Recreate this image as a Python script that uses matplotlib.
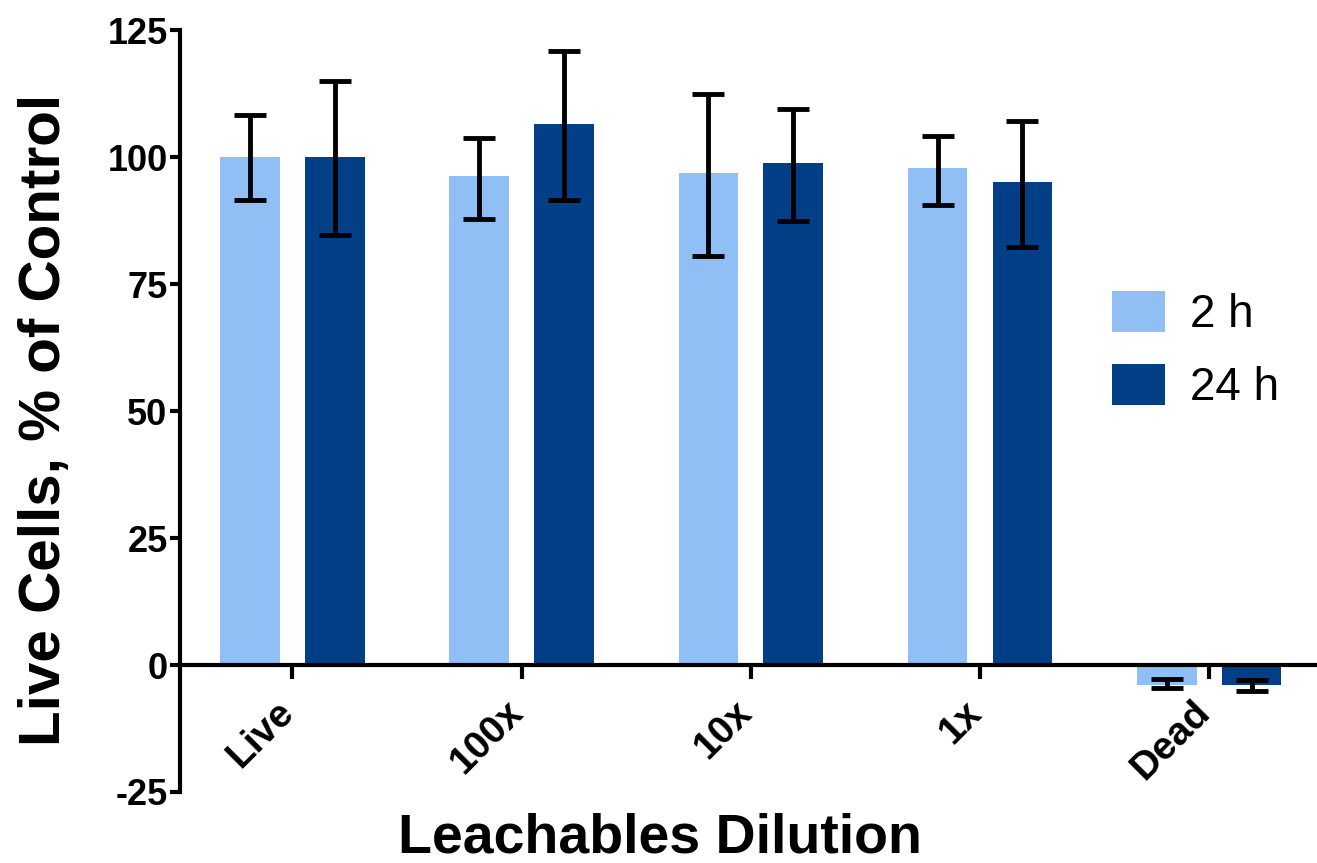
import matplotlib
matplotlib.use("Agg")
import matplotlib.pyplot as plt
import matplotlib.transforms as mtransforms
import numpy as np
from matplotlib.patches import Patch

categories = ["Live", "100x", "10x", "1x", "Dead"]
series_names = ["2 h", "24 h"]
values_2h = [100.0, 96.3, 96.9, 97.8, -4.0]
low_2h = [91.6, 87.8, 80.5, 90.6, -4.6]
high_2h = [108.3, 103.8, 112.5, 104.2, -2.8]
values_24h = [100.0, 106.6, 98.8, 95.1, -4.0]
low_24h = [84.7, 91.5, 87.5, 82.4, -5.1]
high_24h = [115.0, 121.0, 109.4, 107.1, -2.9]
yticks = [-25, 0, 25, 50, 75, 100, 125]

colors = ["#8fbff5", "#023f86"]

plt.rcParams['font.family'] = ['Liberation Sans', 'DejaVu Sans']

fig = plt.figure(figsize=(13.17, 8.63), dpi=100)
ax = fig.add_axes([0.1367, 0.0823, 0.8633, 0.8827])

for s in ['top', 'right']:
    ax.spines[s].set_visible(False)
ax.spines['bottom'].set_position(('data', 0))
ax.spines['bottom'].set_linewidth(3)
ax.spines['left'].set_linewidth(3)
ax.spines['bottom'].set_zorder(4)

x = np.arange(len(categories))
w = 0.26
off = 0.185
for vals, lo, hi, xo, c in [(values_2h, low_2h, high_2h, -off, colors[0]),
                             (values_24h, low_24h, high_24h, off, colors[1])]:
    vals = np.array(vals); lo = np.array(lo); hi = np.array(hi)
    ax.bar(x + xo, vals, width=w, color=c, zorder=2)
    yerr = np.vstack([vals - lo, hi - vals])
    yerr = np.clip(yerr, 0, None)
    ax.errorbar(x + xo, vals, yerr=yerr, fmt='none', ecolor='black',
                elinewidth=3.5, capsize=11.5, capthick=3.5, zorder=3)

ax.set_xlim(-0.49, 4.47)
ax.set_ylim(-25, 125)
ax.set_yticks(yticks)
ax.set_yticklabels([str(t) for t in yticks], fontsize=26, fontweight='bold')
ax.set_xticks(x)
ax.set_xticklabels(categories, rotation=45, ha='right', rotation_mode='anchor',
                   fontsize=28, fontweight='bold')

ax.tick_params(axis='x', length=10, width=3, direction='out', pad=11)
ax.tick_params(axis='y', length=7, width=3, direction='out', pad=2)

shift = mtransforms.ScaledTranslation(-17 / 100, 0, fig.dpi_scale_trans)
for lbl in ax.get_xticklabels():
    lbl.set_transform(lbl.get_transform() + shift)

ax.set_ylabel("Live Cells, % of Control", fontsize=42, fontweight='bold')
ax.yaxis.set_label_coords(-0.095, 0.488)
fig.text(0.501, 0.028, "Leachables Dilution", fontsize=40, fontweight='bold',
         ha='center', va='center')

handles = [Patch(facecolor=colors[0]), Patch(facecolor=colors[1])]
ax.legend(handles, series_names, loc='upper left', bbox_to_anchor=(0.783, 0.712),
          frameon=False, fontsize=33, handlelength=1.17, handleheight=1.0,
          handletextpad=0.55, labelspacing=0.58)

fig.savefig("out.png", dpi=100)
